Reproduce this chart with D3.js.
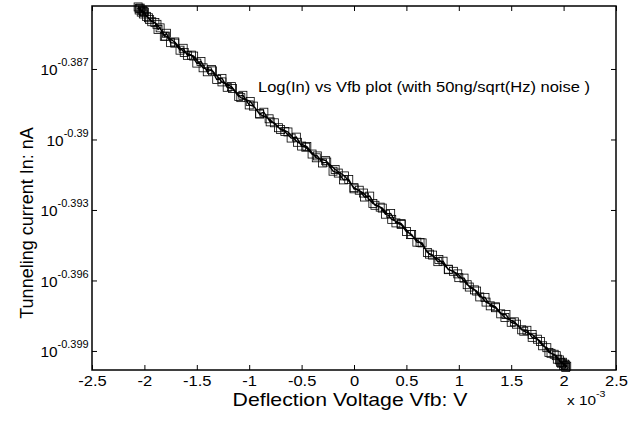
<!DOCTYPE html>
<html>
<head>
<meta charset="utf-8">
<script src="https://cdn.jsdelivr.net/npm/d3@7"></script>
<style>
  body { margin: 0; background: #fff; }
  text { font-family: "Liberation Sans", Arial, sans-serif; fill: #000; }
</style>
</head>
<body>
<div id="chart"></div>
<script>
// Vfb in units of 1e-3 V, Log10(In) with In in nA
// forward sweep then return sweep
const vfb = [
  -2.06, -2.05, -2.04, -2.03, -2.02, -2.01, -2.00, -1.98, -1.96, -1.93,
  -1.90, -1.87, -1.85, -1.81, -1.79, -1.75, -1.71, -1.66, -1.63, -1.59,
  -1.55, -1.50, -1.46, -1.40, -1.36, -1.31, -1.26, -1.21, -1.16, -1.10,
  -1.06, -1.00, -0.96, -0.90, -0.86, -0.80, -0.76, -0.70, -0.66, -0.60,
  -0.55, -0.50, -0.46, -0.40, -0.35, -0.30, -0.26, -0.20, -0.15, -0.10,
  -0.05, 0.00, 0.05, 0.10, 0.15, 0.20, 0.25, 0.30, 0.35, 0.40,
  0.45, 0.50, 0.55, 0.60, 0.65, 0.70, 0.75, 0.80, 0.85, 0.90,
  0.95, 1.00, 1.05, 1.10, 1.15, 1.20, 1.25, 1.30, 1.35, 1.40,
  1.45, 1.50, 1.55, 1.60, 1.65, 1.70, 1.75, 1.80, 1.84, 1.88,
  1.91, 1.94, 1.96, 1.98, 1.99, 2.00, 2.01, 2.02, 2.03,
  2.02, 1.97, 1.93, 1.86, 1.78, 1.70, 1.62, 1.53, 1.44, 1.35,
  1.26, 1.17, 1.08, 0.99, 0.90, 0.81, 0.72, 0.63, 0.54, 0.45,
  0.36, 0.27, 0.18, 0.09, 0.00, -0.09, -0.18, -0.27, -0.36, -0.45,
  -0.54, -0.63, -0.72, -0.81, -0.90, -0.99, -1.08, -1.17, -1.26, -1.35,
  -1.44, -1.53, -1.62, -1.71, -1.80, -1.88, -1.95, -2.01, -2.05
];
const logIn = [
  -0.38436, -0.38449, -0.38441, -0.38458, -0.38450, -0.38466, -0.38458, -0.38476, -0.38482, -0.38499,
  -0.38502, -0.38532, -0.38525, -0.38561, -0.38548, -0.38588, -0.38590, -0.38620, -0.38612, -0.38642,
  -0.38641, -0.38675, -0.38668, -0.38712, -0.38702, -0.38745, -0.38740, -0.38778, -0.38783, -0.38817,
  -0.38812, -0.38853, -0.38858, -0.38890, -0.38884, -0.38925, -0.38929, -0.38958, -0.38966, -0.38994,
  -0.38990, -0.39028, -0.39033, -0.39062, -0.39070, -0.39100, -0.39096, -0.39135, -0.39143, -0.39172,
  -0.39170, -0.39210, -0.39216, -0.39245, -0.39241, -0.39280, -0.39288, -0.39318, -0.39315, -0.39355,
  -0.39362, -0.39392, -0.39404, -0.39437, -0.39440, -0.39481, -0.39492, -0.39520, -0.39518, -0.39554,
  -0.39561, -0.39588, -0.39590, -0.39628, -0.39640, -0.39670, -0.39672, -0.39708, -0.39716, -0.39742,
  -0.39745, -0.39778, -0.39786, -0.39810, -0.39812, -0.39842, -0.39850, -0.39878, -0.39886, -0.39910,
  -0.39914, -0.39935, -0.39938, -0.39952, -0.39948, -0.39962, -0.39956, -0.39970, -0.39965,
  -0.39960, -0.39948, -0.39920, -0.39906, -0.39860, -0.39830, -0.39816, -0.39776, -0.39758, -0.39712,
  -0.39692, -0.39645, -0.39618, -0.39572, -0.39552, -0.39511, -0.39488, -0.39438, -0.39405, -0.39358,
  -0.39340, -0.39292, -0.39272, -0.39228, -0.39205, -0.39155, -0.39128, -0.39090, -0.39078, -0.39030,
  -0.39012, -0.38968, -0.38950, -0.38912, -0.38892, -0.38838, -0.38822, -0.38775, -0.38755, -0.38708,
  -0.38695, -0.38645, -0.38630, -0.38585, -0.38560, -0.38510, -0.38490, -0.38455, -0.38442
];

const xTicks = [-2.5, -2, -1.5, -1, -0.5, 0, 0.5, 1, 1.5, 2, 2.5];
const yTickExps = [-0.387, -0.39, -0.393, -0.396, -0.399];
const yLimExps = [-0.39981, -0.38432];

const titleText = "Log(In) vs Vfb plot (with 50ng/sqrt(Hz) noise )";
const xLabel = "Deflection Voltage Vfb: V";
const yLabel = "Tunneling current In: nA";

const width = 633, height = 422;
const box = { left: 92, right: 616, top: 6, bottom: 370 };
const stretch = 1.18; // horizontal text stretch seen in the original

const svg = d3.select("#chart").append("svg")
    .attr("width", width)
    .attr("height", height);

svg.append("rect").attr("width", width).attr("height", height).attr("fill", "#fff");

const x = d3.scaleLinear().domain([-2.5, 2.5]).range([box.left, box.right]);
const y = d3.scaleLog()
    .domain(yLimExps.map(e => Math.pow(10, e)))
    .range([box.bottom, box.top]);

const points = vfb.map((v, i) => ({ x: v, y: Math.pow(10, logIn[i]) }));

// data line and square markers
const line = d3.line().x(d => x(d.x)).y(d => y(d.y));
svg.append("path")
    .attr("d", line(points))
    .attr("fill", "none")
    .attr("stroke", "#000")
    .attr("stroke-width", 1.4);

const ms = 8;
svg.append("g").selectAll("rect")
  .data(points)
  .join("rect")
    .attr("x", d => x(d.x) - ms / 2)
    .attr("y", d => y(d.y) - ms / 2)
    .attr("width", ms)
    .attr("height", ms)
    .attr("fill", "none")
    .attr("stroke", "#000")
    .attr("stroke-width", 0.8);

// axes (ticks pointing inward, box all round)
const tk = 5;
const gx = svg.append("g")
    .attr("transform", `translate(0,${box.bottom})`)
    .call(d3.axisBottom(x).tickValues(xTicks).tickSize(-tk).tickPadding(6).tickFormat(d => String(d)));
const gxt = svg.append("g")
    .attr("transform", `translate(0,${box.top})`)
    .call(d3.axisTop(x).tickValues(xTicks).tickSize(-tk).tickFormat(""));

const yTickVals = yTickExps.map(e => Math.pow(10, e));
const gy = svg.append("g")
    .attr("transform", `translate(${box.left},0)`)
    .call(d3.axisLeft(y).tickValues(yTickVals).tickSize(-tk).tickPadding(3).tickFormat(""));
const gyr = svg.append("g")
    .attr("transform", `translate(${box.right},0)`)
    .call(d3.axisRight(y).tickValues(yTickVals).tickSize(-tk).tickFormat(""));

[gx, gxt, gy, gyr].forEach(g => {
  g.select(".domain").remove();
  g.selectAll("line").attr("stroke", "#000").attr("stroke-width", 1);
});
gx.selectAll("text")
    .attr("font-size", 14)
    .attr("font-family", "Liberation Sans, Arial, sans-serif")
    .attr("transform", `scale(${stretch},1)`);

// y tick labels as 10^exp
gy.selectAll(".tick text").each(function(d, i) {
  const t = d3.select(this)
      .attr("font-size", 14)
      .attr("font-family", "Liberation Sans, Arial, sans-serif")
      .attr("dy", "0.42em")
      .attr("transform", "scale(1.1,1)");
  t.append("tspan").text("10");
  t.append("tspan").attr("font-size", 10).attr("dy", -9).text(yTickExps[i]);
});

svg.append("rect")
    .attr("x", box.left).attr("y", box.top)
    .attr("width", box.right - box.left).attr("height", box.bottom - box.top)
    .attr("fill", "none")
    .attr("stroke", "#000")
    .attr("stroke-width", 1.5);

// labels
svg.append("text")
    .attr("transform", `translate(258,92) scale(${stretch},1)`)
    .attr("font-size", 14)
    .text(titleText);

svg.append("text")
    .attr("transform", `translate(350,406) scale(${stretch},1)`)
    .attr("text-anchor", "middle")
    .attr("font-size", 18)
    .text(xLabel);

const ex = svg.append("text")
    .attr("transform", `translate(567,405) scale(${stretch},1)`)
    .attr("font-size", 13);
ex.append("tspan").text("x 10");
ex.append("tspan").attr("font-size", 9).attr("dy", -8).text("-3");

svg.append("text")
    .attr("transform", `translate(33,223) rotate(-90)`)
    .attr("text-anchor", "middle")
    .attr("font-size", 18)
    .text(yLabel);
</script>
</body>
</html>
